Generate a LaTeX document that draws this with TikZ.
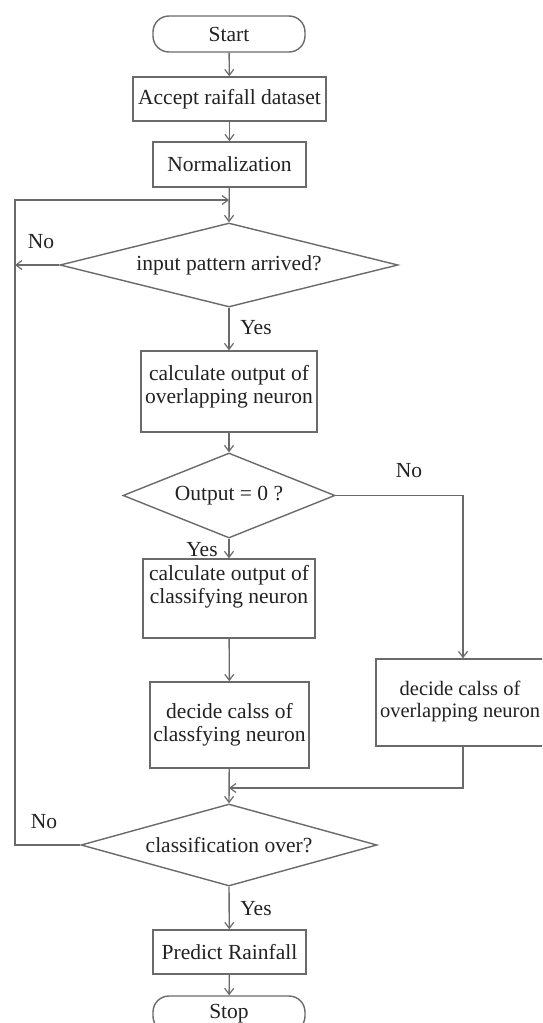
\documentclass[tikz,border=0pt]{standalone}
\usepackage{fontspec}
\setmainfont{Liberation Serif}
\usetikzlibrary{shapes.geometric,arrows.meta}
\definecolor{ln}{HTML}{6A6A6A}
\definecolor{tx}{HTML}{222222}
\tikzset{
  every node/.style={text=tx,font=\fontsize{21.5}{23}\selectfont},
  box/.style={draw=ln,line width=1.4pt,rectangle,inner sep=0pt,align=center},
  term/.style={draw=ln,line width=1.4pt,rectangle,rounded corners=16pt,inner sep=0pt,minimum width=152pt,minimum height=36pt},
  dec/.style={draw=ln,line width=1.4pt,diamond,inner sep=0pt,aspect=4},
  conn/.style={draw=ln,line width=1.4pt},
  arr/.style={conn,-{Straight Barb[length=6pt,width=9pt,line width=1.2pt]}},
  lbl/.style={inner sep=0pt}
}
\begin{document}
\begin{tikzpicture}[x=1pt,y=-1pt]
\useasboundingbox (0,0) rectangle (542,1023);
\clip (0,0) rectangle (542,1023);
\fill[white] (0,0) rectangle (542,1023);
% nodes
\node[term] (start) at (229,34) {Start};
\node[box,minimum width=193pt,minimum height=44pt] (acc) at (229.5,99) {Accept raifall dataset};
\node[box,minimum width=153pt,minimum height=45pt] (norm) at (229.5,164.5) {Normalization};
\node[dec,minimum width=338pt,minimum height=84pt] (d1) at (229,265) {input pattern arrived?};
\node[box,minimum width=176pt,minimum height=81pt] (c1) at (229,391.5) {};
\node[lbl,align=center] (c1t) at (229,387) {calculate output of\\overlapping neuron};
\node[dec,aspect=2.5,minimum width=212pt,minimum height=85pt] (d2) at (229,495.5) {Output = 0 ?};
\node[box,minimum width=172pt,minimum height=79pt] (c2) at (229,598.5) {};
\node[lbl,align=center] (c2t) at (229,587) {calculate output of\\classifying neuron};
\node[box,minimum width=159pt,minimum height=86pt] (k1) at (229.5,725) {decide calss of\\classfying neuron};
\node[box,minimum width=174pt,minimum height=87pt] (k2) at (463,702.5) {};
\node[lbl,align=center,font=\fontsize{20.5}{22.5}\selectfont] (k2t) at (460,701.5) {decide calss of\\overlapping neuron};
\node[dec,minimum width=296pt,minimum height=82pt] (d3) at (229,845) {classification over?};
\node[box,minimum width=153pt,minimum height=44pt] (pred) at (229.5,952) {Predict Rainfall};
\node[term] (stop) at (229,1014) {Stop};
% helper coordinates
\coordinate (loopL) at (15,200);
\coordinate (loopJ) at (229,200);
\coordinate (leftA) at (15,265);
\coordinate (mergeJ) at (229,788);
% connectors
\draw[arr] (start) -- (acc);
\draw[arr] (acc) -- (norm);
\draw[arr] (norm) -- (d1.north);
\draw[arr] (d1.west) -- (leftA);
\draw[arr] (d1.south) -- (c1);
\draw[arr] (c1) -- (d2.north);
\draw[arr] (d2.south) -- (c2);
\draw[arr] (d2.east) -| (k2.north);
\draw[arr] (c2) -- (k1);
\draw[arr] (k1) -- (d3.north);
\draw[arr] (k2.south) |- (mergeJ);
\draw[arr] (d3.west) -| (loopL) -- (loopJ);
\draw[arr] (d3.south) -- (pred);
\draw[arr] (pred) -- (stop);
% labels
\node[lbl] (no1) at (41,242) {No};
\node[lbl] (yes1) at (256,328) {Yes};
\node[lbl] (no2) at (409,471) {No};
\node[lbl] (yes2) at (202,550) {Yes};
\node[lbl] (no3) at (44,822) {No};
\node[lbl] (yes3) at (256,909) {Yes};
\end{tikzpicture}
\end{document}
